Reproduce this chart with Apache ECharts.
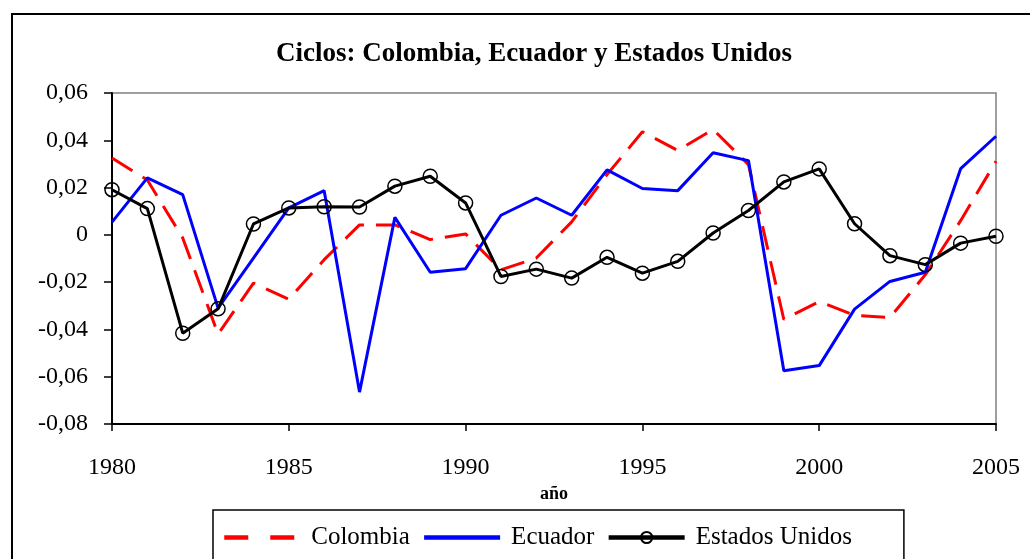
<!DOCTYPE html>
<html>
<head>
<meta charset="utf-8">
<script src="https://cdn.jsdelivr.net/npm/echarts@6/dist/echarts.min.js"></script>
<style>
  html, body { margin: 0; padding: 0; background: #fff; }
  #chart { width: 1030px; height: 559px; }
</style>
</head>
<body>
<div id="chart"></div>
<script>
const years = [1980, 1981, 1982, 1983, 1984, 1985, 1986, 1987, 1988, 1989, 1990, 1991, 1992,
  1993, 1994, 1995, 1996, 1997, 1998, 1999, 2000, 2001, 2002, 2003, 2004, 2005]

const colombia = [0.0325, 0.0232, -0.0013, -0.0420, -0.0204, -0.0272, -0.0105, 0.0042, 0.0042, -0.0020,
  0.0004, -0.0148, -0.0098, 0.0055, 0.0255, 0.0436, 0.0357, 0.0446, 0.0297, -0.0358,
  -0.0282, -0.0340, -0.0350, -0.0169, 0.0060, 0.0311]

const ecuador = [0.0054, 0.0241, 0.0170, -0.0310, -0.0098, 0.0114, 0.0187, -0.0665, 0.0074, -0.0158,
  -0.0143, 0.0083, 0.0156, 0.0083, 0.0275, 0.0196, 0.0187, 0.0347, 0.0314, -0.0575,
  -0.0553, -0.0314, -0.0197, -0.0158, 0.0280, 0.0417]

const estadosUnidos = [0.0191, 0.0111, -0.0416, -0.0313, 0.0046, 0.0114, 0.0119, 0.0118, 0.0206, 0.0248,
  0.0135, -0.0176, -0.0145, -0.0183, -0.0095, -0.0162, -0.0112, 0.0008, 0.0103, 0.0224,
  0.0279, 0.0047, -0.0088, -0.0126, -0.0035, -0.0006]

const pairs = vals => years.map((y, i) => [y, vals[i]])

const serif = '"Liberation Serif", "DejaVu Serif", serif'
const noSymbol = { color: 'rgba(0,0,0,0)', borderWidth: 0, opacity: 0 }

const chart = echarts.init(document.getElementById('chart'))
const option = {
  animation: false,
  backgroundColor: '#fff',
  textStyle: { fontFamily: serif, color: '#000' },
  title: {
    text: 'Ciclos: Colombia, Ecuador y Estados Unidos',
    left: 529,
    textAlign: 'center',
    top: 36,
    textStyle: { fontFamily: serif, fontSize: 27, fontWeight: 'bold', color: '#000' }
  },
  graphic: [
    {
      type: 'rect',
      shape: { x: 12, y: 14, width: 1040, height: 600 },
      style: { fill: 'none', stroke: '#000', lineWidth: 2 },
      silent: true
    }
  ],
  legend: {
    left: 213,
    top: 510,
    itemWidth: 76,
    itemHeight: 14,
    itemGap: 12,
    padding: [15, 52, 30, 9],
    borderColor: '#000',
    borderWidth: 1.5,
    textStyle: { fontFamily: serif, fontSize: 25, color: '#000', padding: [0, 0, 0, 6] },
    data: [
      { name: 'Colombia', itemStyle: noSymbol, lineStyle: { width: 4.5, type: [24, 22] } },
      { name: 'Ecuador', itemStyle: noSymbol, lineStyle: { width: 4.5 } },
      { name: 'Estados Unidos', lineStyle: { width: 4.5 } }
    ]
  },
  grid: {
    left: 112,
    right: 34,
    top: 93,
    bottom: 135,
    show: true,
    borderColor: '#808080',
    borderWidth: 1.5
  },
  xAxis: {
    type: 'value',
    min: 1980,
    max: 2005,
    interval: 5,
    name: 'año',
    nameLocation: 'middle',
    nameGap: 61,
    nameTextStyle: { fontFamily: serif, fontSize: 18, fontWeight: 'bold', color: '#000' },
    axisLine: { onZero: false, lineStyle: { color: '#000', width: 2 } },
    axisTick: { show: true, length: 7, lineStyle: { color: '#000', width: 1.5 } },
    axisLabel: { fontFamily: serif, fontSize: 24, color: '#000', margin: 32, formatter: v => String(v) },
    splitLine: { show: false }
  },
  yAxis: {
    type: 'value',
    min: -0.08,
    max: 0.06,
    interval: 0.02,
    axisLine: { show: true, onZero: false, lineStyle: { color: '#000', width: 2 } },
    axisTick: { show: true, length: 8, lineStyle: { color: '#000', width: 1.5 } },
    axisLabel: {
      fontFamily: serif, fontSize: 24, color: '#000', margin: 24,
      formatter: v => {
        const r = Math.round(v * 100) / 100
        if (r === 0) return '0'
        return (r < 0 ? '-' : '') + Math.abs(r).toFixed(2).replace('.', ',')
      }
    },
    splitLine: { show: false }
  },
  series: [
    {
      name: 'Colombia',
      type: 'line',
      data: pairs(colombia),
      showSymbol: false,
      symbol: 'none',
      lineStyle: { color: '#ff0000', width: 3, type: [24, 12] },
      itemStyle: { color: '#ff0000' },
      z: 2
    },
    {
      name: 'Ecuador',
      type: 'line',
      data: pairs(ecuador),
      showSymbol: false,
      symbol: 'none',
      lineStyle: { color: '#0000ff', width: 3 },
      itemStyle: { color: '#0000ff' },
      z: 3
    },
    {
      name: 'Estados Unidos',
      type: 'line',
      data: pairs(estadosUnidos),
      symbol: 'circle',
      symbolSize: 14,
      lineStyle: { color: '#000', width: 3 },
      itemStyle: { color: 'rgba(255,255,255,0)', borderColor: '#000', borderWidth: 1.5 },
      z: 4
    }
  ]
}
chart.setOption(option)
</script>
</body>
</html>
